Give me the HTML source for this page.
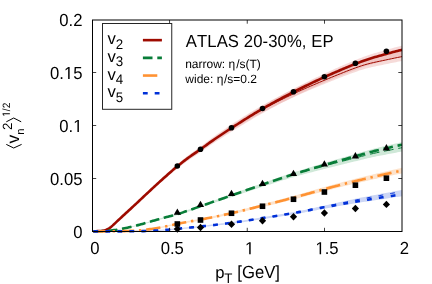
<!DOCTYPE html>
<html><head><meta charset="utf-8"><title>plot</title>
<style>html,body{margin:0;padding:0;background:#fff}body{width:432px;height:284px;overflow:hidden;font-family:"Liberation Sans",sans-serif}</style></head>
<body>
<svg width="432" height="284" viewBox="0 0 432 284" style="display:block;will-change:transform;opacity:0.999;text-rendering:geometricPrecision;font-kerning:none">
<rect width="432" height="284" fill="#fff"/>
<defs><path id="one" d="M515 0V1237L197 1010V1180L530 1409H696V0Z"/><clipPath id="c"><rect x="92.5" y="20" width="309.5" height="213"/></clipPath></defs>
<g clip-path="url(#c)" fill="none">
<path d="M93.40,231.16 L94.50,231.15 L96.00,231.12 L97.50,231.08 L99.00,231.03 L100.50,230.97 L102.00,230.90 L103.50,230.83 L105.00,230.75 L106.50,230.66 L108.00,230.54 L109.50,230.39 L111.00,230.23 L112.50,230.05 L114.00,229.86 L115.50,229.66 L117.00,229.43 L118.50,229.18 L120.00,228.90 L121.50,228.60 L123.00,228.29 L124.50,227.98 L126.00,227.66 L127.50,227.33 L129.00,226.99 L130.50,226.63 L132.00,226.26 L133.50,225.89 L135.00,225.50 L136.50,225.11 L138.00,224.71 L139.50,224.31 L141.00,223.90 L142.50,223.48 L144.00,223.04 L145.50,222.59 L147.00,222.13 L148.50,221.68 L150.00,221.22 L151.50,220.77 L153.00,220.33 L154.50,219.90 L156.00,219.46 L157.50,219.02 L159.00,218.59 L160.50,218.16 L162.00,217.73 L163.50,217.31 L165.00,216.88 L166.50,216.47 L168.00,216.07 L169.50,215.68 L171.00,215.29 L172.50,214.89 L174.00,214.49 L175.50,214.06 L177.00,213.62 L178.50,213.15 L180.00,212.66 L181.50,212.14 L183.00,211.61 L184.50,211.07 L186.00,210.53 L187.50,209.98 L189.00,209.43 L190.50,208.90 L192.00,208.36 L193.50,207.82 L195.00,207.27 L196.50,206.73 L198.00,206.18 L199.50,205.64 L201.00,205.10 L202.50,204.56 L204.00,204.02 L205.50,203.48 L207.00,202.94 L208.50,202.40 L210.00,201.86 L211.50,201.33 L213.00,200.79 L214.50,200.25 L216.00,199.72 L217.50,199.18 L219.00,198.65 L220.50,198.11 L222.00,197.58 L223.50,197.04 L225.00,196.50 L226.50,195.97 L228.00,195.43 L229.50,194.90 L231.00,194.36 L232.50,193.82 L234.00,193.28 L235.50,192.74 L237.00,192.20 L238.50,191.66 L240.00,191.12 L241.50,190.58 L243.00,190.04 L244.50,189.50 L246.00,188.96 L247.50,188.42 L249.00,187.88 L250.50,187.34 L252.00,186.80 L253.50,186.27 L255.00,185.73 L256.50,185.20 L258.00,184.67 L259.50,184.14 L261.00,183.61 L262.50,183.09 L264.00,182.56 L265.50,182.04 L267.00,181.52 L268.50,180.99 L270.00,180.47 L271.50,179.95 L273.00,179.43 L274.50,178.91 L276.00,178.39 L277.50,177.87 L279.00,177.36 L280.50,176.84 L282.00,176.33 L283.50,175.82 L285.00,175.31 L286.50,174.81 L288.00,174.31 L289.50,173.81 L291.00,173.31 L292.50,172.82 L294.00,172.33 L295.50,171.84 L297.00,171.36 L298.50,170.88 L300.00,170.41 L301.50,169.94 L303.00,169.47 L304.50,169.00 L306.00,168.54 L307.50,168.07 L309.00,167.62 L310.50,167.16 L312.00,166.70 L313.50,166.25 L315.00,165.80 L316.50,165.35 L318.00,164.90 L319.50,164.45 L321.00,164.00 L322.50,163.55 L324.00,163.10 L325.50,162.65 L327.00,162.20 L328.50,161.76 L330.00,161.31 L331.50,160.87 L333.00,160.43 L334.50,159.99 L336.00,159.55 L337.50,159.11 L339.00,158.67 L340.50,158.23 L342.00,157.80 L343.50,157.36 L345.00,156.93 L346.50,156.49 L348.00,156.06 L349.50,155.63 L351.00,155.20 L352.50,154.77 L354.00,154.34 L355.50,153.91 L357.00,153.48 L358.50,153.05 L360.00,152.62 L361.50,152.18 L363.00,151.75 L364.50,151.32 L366.00,150.89 L367.50,150.47 L369.00,150.05 L370.50,149.64 L372.00,149.23 L373.50,148.83 L375.00,148.44 L376.50,148.06 L378.00,147.69 L379.50,147.33 L381.00,146.98 L382.50,146.62 L384.00,146.28 L385.50,145.93 L387.00,145.57 L388.50,145.22 L390.00,144.87 L391.50,144.52 L393.00,144.17 L394.50,143.82 L396.00,143.47 L397.50,143.13 L399.00,142.78 L400.50,142.44 L402.00,142.10 L402.00,151.54 L400.50,151.81 L399.00,152.09 L397.50,152.37 L396.00,152.65 L394.50,152.93 L393.00,153.21 L391.50,153.50 L390.00,153.78 L388.50,154.06 L387.00,154.35 L385.50,154.64 L384.00,154.92 L382.50,155.20 L381.00,155.49 L379.50,155.78 L378.00,156.07 L376.50,156.37 L375.00,156.69 L373.50,157.01 L372.00,157.34 L370.50,157.68 L369.00,158.02 L367.50,158.37 L366.00,158.73 L364.50,159.09 L363.00,159.45 L361.50,159.81 L360.00,160.17 L358.50,160.54 L357.00,160.90 L355.50,161.26 L354.00,161.62 L352.50,161.98 L351.00,162.35 L349.50,162.71 L348.00,163.07 L346.50,163.44 L345.00,163.80 L343.50,164.17 L342.00,164.54 L340.50,164.91 L339.00,165.28 L337.50,165.65 L336.00,166.02 L334.50,166.39 L333.00,166.77 L331.50,167.14 L330.00,167.52 L328.50,167.90 L327.00,168.28 L325.50,168.66 L324.00,169.04 L322.50,169.43 L321.00,169.81 L319.50,170.19 L318.00,170.58 L316.50,170.96 L315.00,171.35 L313.50,171.74 L312.00,172.13 L310.50,172.52 L309.00,172.91 L307.50,173.31 L306.00,173.71 L304.50,174.11 L303.00,174.51 L301.50,174.92 L300.00,175.33 L298.50,175.74 L297.00,176.16 L295.50,176.58 L294.00,177.01 L292.50,177.44 L291.00,177.87 L289.50,178.31 L288.00,178.75 L286.50,179.19 L285.00,179.64 L283.50,180.09 L282.00,180.54 L280.50,181.00 L279.00,181.48 L277.50,181.96 L276.00,182.45 L274.50,182.93 L273.00,183.41 L271.50,183.90 L270.00,184.39 L268.50,184.88 L267.00,185.37 L265.50,185.85 L264.00,186.34 L262.50,186.83 L261.00,187.32 L259.50,187.82 L258.00,188.31 L256.50,188.81 L255.00,189.30 L253.50,189.80 L252.00,190.31 L250.50,190.81 L249.00,191.31 L247.50,191.82 L246.00,192.32 L244.50,192.83 L243.00,193.33 L241.50,193.84 L240.00,194.34 L238.50,194.85 L237.00,195.35 L235.50,195.86 L234.00,196.36 L232.50,196.86 L231.00,197.37 L229.50,197.87 L228.00,198.37 L226.50,198.87 L225.00,199.37 L223.50,199.87 L222.00,200.37 L220.50,200.87 L219.00,201.37 L217.50,201.87 L216.00,202.37 L214.50,202.87 L213.00,203.37 L211.50,203.88 L210.00,204.38 L208.50,204.88 L207.00,205.38 L205.50,205.88 L204.00,206.39 L202.50,206.89 L201.00,207.40 L199.50,207.90 L198.00,208.41 L196.50,208.92 L195.00,209.43 L193.50,209.94 L192.00,210.44 L190.50,210.95 L189.00,211.45 L187.50,211.96 L186.00,212.47 L184.50,212.98 L183.00,213.49 L181.50,213.98 L180.00,214.46 L178.50,214.92 L177.00,215.36 L175.50,215.77 L174.00,216.17 L172.50,216.55 L171.00,216.92 L169.50,217.28 L168.00,217.65 L166.50,218.02 L165.00,218.41 L163.50,218.80 L162.00,219.20 L160.50,219.60 L159.00,220.00 L157.50,220.41 L156.00,220.82 L154.50,221.22 L153.00,221.63 L151.50,222.04 L150.00,222.46 L148.50,222.89 L147.00,223.31 L145.50,223.74 L144.00,224.16 L142.50,224.57 L141.00,224.97 L139.50,225.35 L138.00,225.72 L136.50,226.10 L135.00,226.46 L133.50,226.82 L132.00,227.17 L130.50,227.52 L129.00,227.85 L127.50,228.17 L126.00,228.48 L124.50,228.78 L123.00,229.07 L121.50,229.36 L120.00,229.63 L118.50,229.89 L117.00,230.13 L115.50,230.34 L114.00,230.53 L112.50,230.71 L111.00,230.88 L109.50,231.03 L108.00,231.17 L106.50,231.28 L105.00,231.37 L103.50,231.44 L102.00,231.50 L100.50,231.57 L99.00,231.62 L97.50,231.67 L96.00,231.71 L94.50,231.74 L93.40,231.75Z" fill="#cfe8d8"/>
<path d="M93.40,230.90 L94.50,230.89 L96.00,230.89 L97.50,230.89 L99.00,230.88 L100.50,230.88 L102.00,230.87 L103.50,230.86 L105.00,230.85 L106.50,230.84 L108.00,230.82 L109.50,230.81 L111.00,230.80 L112.50,230.78 L114.00,230.76 L115.50,230.75 L117.00,230.73 L118.50,230.71 L120.00,230.69 L121.50,230.66 L123.00,230.63 L124.50,230.59 L126.00,230.54 L127.50,230.48 L129.00,230.41 L130.50,230.34 L132.00,230.26 L133.50,230.18 L135.00,230.09 L136.50,229.99 L138.00,229.89 L139.50,229.79 L141.00,229.68 L142.50,229.54 L144.00,229.38 L145.50,229.20 L147.00,229.01 L148.50,228.79 L150.00,228.56 L151.50,228.32 L153.00,228.07 L154.50,227.82 L156.00,227.56 L157.50,227.29 L159.00,227.03 L160.50,226.76 L162.00,226.48 L163.50,226.18 L165.00,225.86 L166.50,225.53 L168.00,225.19 L169.50,224.85 L171.00,224.50 L172.50,224.16 L174.00,223.82 L175.50,223.49 L177.00,223.17 L178.50,222.86 L180.00,222.56 L181.50,222.27 L183.00,221.97 L184.50,221.68 L186.00,221.40 L187.50,221.11 L189.00,220.82 L190.50,220.53 L192.00,220.25 L193.50,219.98 L195.00,219.70 L196.50,219.42 L198.00,219.14 L199.50,218.86 L201.00,218.56 L202.50,218.26 L204.00,217.96 L205.50,217.66 L207.00,217.35 L208.50,217.05 L210.00,216.74 L211.50,216.43 L213.00,216.11 L214.50,215.79 L216.00,215.48 L217.50,215.15 L219.00,214.83 L220.50,214.50 L222.00,214.17 L223.50,213.84 L225.00,213.51 L226.50,213.17 L228.00,212.83 L229.50,212.49 L231.00,212.14 L232.50,211.79 L234.00,211.43 L235.50,211.07 L237.00,210.71 L238.50,210.34 L240.00,209.97 L241.50,209.59 L243.00,209.21 L244.50,208.83 L246.00,208.45 L247.50,208.06 L249.00,207.67 L250.50,207.28 L252.00,206.89 L253.50,206.50 L255.00,206.10 L256.50,205.71 L258.00,205.32 L259.50,204.92 L261.00,204.53 L262.50,204.14 L264.00,203.75 L265.50,203.36 L267.00,202.97 L268.50,202.58 L270.00,202.19 L271.50,201.79 L273.00,201.40 L274.50,201.01 L276.00,200.61 L277.50,200.22 L279.00,199.82 L280.50,199.42 L282.00,199.02 L283.50,198.62 L285.00,198.22 L286.50,197.82 L288.00,197.41 L289.50,197.00 L291.00,196.60 L292.50,196.19 L294.00,195.78 L295.50,195.36 L297.00,194.95 L298.50,194.53 L300.00,194.10 L301.50,193.67 L303.00,193.24 L304.50,192.81 L306.00,192.37 L307.50,191.93 L309.00,191.50 L310.50,191.06 L312.00,190.62 L313.50,190.18 L315.00,189.74 L316.50,189.31 L318.00,188.87 L319.50,188.44 L321.00,188.01 L322.50,187.59 L324.00,187.17 L325.50,186.75 L327.00,186.34 L328.50,185.92 L330.00,185.51 L331.50,185.10 L333.00,184.69 L334.50,184.28 L336.00,183.87 L337.50,183.47 L339.00,183.06 L340.50,182.66 L342.00,182.26 L343.50,181.86 L345.00,181.46 L346.50,181.06 L348.00,180.67 L349.50,180.28 L351.00,179.89 L352.50,179.50 L354.00,179.12 L355.50,178.74 L357.00,178.36 L358.50,177.98 L360.00,177.60 L361.50,177.23 L363.00,176.86 L364.50,176.49 L366.00,176.12 L367.50,175.75 L369.00,175.39 L370.50,175.03 L372.00,174.67 L373.50,174.31 L375.00,173.95 L376.50,173.60 L378.00,173.24 L379.50,172.89 L381.00,172.54 L382.50,172.19 L384.00,171.84 L385.50,171.50 L387.00,171.15 L388.50,170.81 L390.00,170.47 L391.50,170.14 L393.00,169.80 L394.50,169.47 L396.00,169.14 L397.50,168.82 L399.00,168.49 L400.50,168.17 L402.00,167.85 L402.00,173.35 L400.50,173.65 L399.00,173.95 L397.50,174.25 L396.00,174.56 L394.50,174.86 L393.00,175.17 L391.50,175.48 L390.00,175.79 L388.50,176.11 L387.00,176.42 L385.50,176.74 L384.00,177.07 L382.50,177.39 L381.00,177.71 L379.50,178.04 L378.00,178.36 L376.50,178.69 L375.00,179.02 L373.50,179.35 L372.00,179.69 L370.50,180.02 L369.00,180.36 L367.50,180.70 L366.00,181.04 L364.50,181.38 L363.00,181.72 L361.50,182.07 L360.00,182.41 L358.50,182.76 L357.00,183.11 L355.50,183.46 L354.00,183.82 L352.50,184.18 L351.00,184.54 L349.50,184.90 L348.00,185.26 L346.50,185.63 L345.00,185.99 L343.50,186.36 L342.00,186.73 L340.50,187.11 L339.00,187.48 L337.50,187.86 L336.00,188.23 L334.50,188.61 L333.00,188.99 L331.50,189.38 L330.00,189.76 L328.50,190.14 L327.00,190.53 L325.50,190.91 L324.00,191.30 L322.50,191.69 L321.00,192.08 L319.50,192.48 L318.00,192.88 L316.50,193.28 L315.00,193.69 L313.50,194.09 L312.00,194.50 L310.50,194.91 L309.00,195.31 L307.50,195.72 L306.00,196.13 L304.50,196.53 L303.00,196.94 L301.50,197.34 L300.00,197.73 L298.50,198.13 L297.00,198.52 L295.50,198.90 L294.00,199.29 L292.50,199.67 L291.00,200.05 L289.50,200.43 L288.00,200.81 L286.50,201.18 L285.00,201.56 L283.50,201.93 L282.00,202.30 L280.50,202.67 L279.00,203.04 L277.50,203.41 L276.00,203.78 L274.50,204.15 L273.00,204.51 L271.50,204.88 L270.00,205.24 L268.50,205.61 L267.00,205.97 L265.50,206.33 L264.00,206.70 L262.50,207.06 L261.00,207.42 L259.50,207.79 L258.00,208.15 L256.50,208.51 L255.00,208.88 L253.50,209.24 L252.00,209.61 L250.50,209.97 L249.00,210.34 L247.50,210.70 L246.00,211.06 L244.50,211.41 L243.00,211.77 L241.50,212.12 L240.00,212.47 L238.50,212.82 L237.00,213.16 L235.50,213.50 L234.00,213.83 L232.50,214.16 L231.00,214.48 L229.50,214.81 L228.00,215.13 L226.50,215.44 L225.00,215.75 L223.50,216.07 L222.00,216.37 L220.50,216.68 L219.00,216.98 L217.50,217.28 L216.00,217.58 L214.50,217.88 L213.00,218.17 L211.50,218.47 L210.00,218.75 L208.50,219.04 L207.00,219.33 L205.50,219.61 L204.00,219.89 L202.50,220.17 L201.00,220.45 L199.50,220.72 L198.00,220.99 L196.50,221.25 L195.00,221.51 L193.50,221.76 L192.00,222.02 L190.50,222.28 L189.00,222.55 L187.50,222.81 L186.00,223.08 L184.50,223.35 L183.00,223.62 L181.50,223.89 L180.00,224.17 L178.50,224.45 L177.00,224.73 L175.50,225.02 L174.00,225.33 L172.50,225.65 L171.00,225.97 L169.50,226.29 L168.00,226.61 L166.50,226.92 L165.00,227.23 L163.50,227.52 L162.00,227.80 L160.50,228.07 L159.00,228.31 L157.50,228.56 L156.00,228.80 L154.50,229.04 L153.00,229.28 L151.50,229.51 L150.00,229.74 L148.50,229.95 L147.00,230.15 L145.50,230.33 L144.00,230.50 L142.50,230.65 L141.00,230.77 L139.50,230.88 L138.00,230.97 L136.50,231.06 L135.00,231.15 L133.50,231.24 L132.00,231.31 L130.50,231.39 L129.00,231.45 L127.50,231.52 L126.00,231.57 L124.50,231.62 L123.00,231.66 L121.50,231.69 L120.00,231.71 L118.50,231.73 L117.00,231.75 L115.50,231.76 L114.00,231.78 L112.50,231.80 L111.00,231.81 L109.50,231.82 L108.00,231.84 L106.50,231.85 L105.00,231.86 L103.50,231.87 L102.00,231.88 L100.50,231.88 L99.00,231.89 L97.50,231.90 L96.00,231.90 L94.50,231.90 L93.40,231.90Z" fill="#fde3cc"/>
<path d="M93.40,230.90 L94.50,230.90 L96.00,230.90 L97.50,230.90 L99.00,230.90 L100.50,230.90 L102.00,230.89 L103.50,230.89 L105.00,230.89 L106.50,230.89 L108.00,230.88 L109.50,230.88 L111.00,230.87 L112.50,230.87 L114.00,230.86 L115.50,230.86 L117.00,230.85 L118.50,230.84 L120.00,230.84 L121.50,230.83 L123.00,230.82 L124.50,230.81 L126.00,230.80 L127.50,230.79 L129.00,230.78 L130.50,230.77 L132.00,230.76 L133.50,230.75 L135.00,230.74 L136.50,230.73 L138.00,230.71 L139.50,230.70 L141.00,230.68 L142.50,230.66 L144.00,230.62 L145.50,230.57 L147.00,230.51 L148.50,230.44 L150.00,230.37 L151.50,230.29 L153.00,230.20 L154.50,230.11 L156.00,230.02 L157.50,229.93 L159.00,229.83 L160.50,229.74 L162.00,229.64 L163.50,229.52 L165.00,229.40 L166.50,229.27 L168.00,229.13 L169.50,228.99 L171.00,228.84 L172.50,228.70 L174.00,228.55 L175.50,228.40 L177.00,228.25 L178.50,228.11 L180.00,227.97 L181.50,227.82 L183.00,227.68 L184.50,227.53 L186.00,227.38 L187.50,227.23 L189.00,227.08 L190.50,226.93 L192.00,226.78 L193.50,226.62 L195.00,226.46 L196.50,226.30 L198.00,226.14 L199.50,225.98 L201.00,225.81 L202.50,225.64 L204.00,225.48 L205.50,225.31 L207.00,225.13 L208.50,224.96 L210.00,224.79 L211.50,224.61 L213.00,224.43 L214.50,224.25 L216.00,224.07 L217.50,223.89 L219.00,223.70 L220.50,223.51 L222.00,223.32 L223.50,223.13 L225.00,222.94 L226.50,222.74 L228.00,222.54 L229.50,222.34 L231.00,222.13 L232.50,221.93 L234.00,221.72 L235.50,221.50 L237.00,221.28 L238.50,221.06 L240.00,220.83 L241.50,220.61 L243.00,220.38 L244.50,220.14 L246.00,219.91 L247.50,219.67 L249.00,219.43 L250.50,219.19 L252.00,218.94 L253.50,218.70 L255.00,218.46 L256.50,218.21 L258.00,217.97 L259.50,217.72 L261.00,217.48 L262.50,217.24 L264.00,216.99 L265.50,216.75 L267.00,216.51 L268.50,216.26 L270.00,216.02 L271.50,215.77 L273.00,215.53 L274.50,215.28 L276.00,215.03 L277.50,214.78 L279.00,214.53 L280.50,214.28 L282.00,214.03 L283.50,213.77 L285.00,213.52 L286.50,213.26 L288.00,213.00 L289.50,212.74 L291.00,212.48 L292.50,212.21 L294.00,211.95 L295.50,211.68 L297.00,211.40 L298.50,211.13 L300.00,210.84 L301.50,210.56 L303.00,210.26 L304.50,209.95 L306.00,209.64 L307.50,209.31 L309.00,208.99 L310.50,208.65 L312.00,208.32 L313.50,207.98 L315.00,207.64 L316.50,207.30 L318.00,206.96 L319.50,206.63 L321.00,206.29 L322.50,205.96 L324.00,205.63 L325.50,205.31 L327.00,204.98 L328.50,204.65 L330.00,204.32 L331.50,203.99 L333.00,203.66 L334.50,203.32 L336.00,202.99 L337.50,202.65 L339.00,202.32 L340.50,201.99 L342.00,201.66 L343.50,201.32 L345.00,200.99 L346.50,200.67 L348.00,200.34 L349.50,200.02 L351.00,199.70 L352.50,199.39 L354.00,199.07 L355.50,198.77 L357.00,198.46 L358.50,198.16 L360.00,197.86 L361.50,197.57 L363.00,197.28 L364.50,196.99 L366.00,196.70 L367.50,196.41 L369.00,196.13 L370.50,195.84 L372.00,195.56 L373.50,195.28 L375.00,194.99 L376.50,194.71 L378.00,194.43 L379.50,194.15 L381.00,193.86 L382.50,193.58 L384.00,193.30 L385.50,193.01 L387.00,192.73 L388.50,192.45 L390.00,192.17 L391.50,191.89 L393.00,191.61 L394.50,191.33 L396.00,191.06 L397.50,190.79 L399.00,190.52 L400.50,190.25 L402.00,189.98 L402.00,196.23 L400.50,196.45 L399.00,196.67 L397.50,196.89 L396.00,197.11 L394.50,197.34 L393.00,197.56 L391.50,197.79 L390.00,198.02 L388.50,198.25 L387.00,198.48 L385.50,198.71 L384.00,198.94 L382.50,199.17 L381.00,199.40 L379.50,199.62 L378.00,199.85 L376.50,200.07 L375.00,200.30 L373.50,200.52 L372.00,200.74 L370.50,200.97 L369.00,201.19 L367.50,201.42 L366.00,201.64 L364.50,201.87 L363.00,202.10 L361.50,202.33 L360.00,202.56 L358.50,202.80 L357.00,203.03 L355.50,203.28 L354.00,203.52 L352.50,203.77 L351.00,204.02 L349.50,204.27 L348.00,204.53 L346.50,204.78 L345.00,205.04 L343.50,205.30 L342.00,205.56 L340.50,205.83 L339.00,206.09 L337.50,206.36 L336.00,206.62 L334.50,206.89 L333.00,207.16 L331.50,207.43 L330.00,207.70 L328.50,207.96 L327.00,208.23 L325.50,208.50 L324.00,208.77 L322.50,209.04 L321.00,209.31 L319.50,209.59 L318.00,209.87 L316.50,210.15 L315.00,210.43 L313.50,210.71 L312.00,210.99 L310.50,211.27 L309.00,211.55 L307.50,211.83 L306.00,212.11 L304.50,212.38 L303.00,212.66 L301.50,212.93 L300.00,213.20 L298.50,213.46 L297.00,213.72 L295.50,213.98 L294.00,214.23 L292.50,214.48 L291.00,214.73 L289.50,214.98 L288.00,215.22 L286.50,215.47 L285.00,215.71 L283.50,215.95 L282.00,216.19 L280.50,216.42 L279.00,216.66 L277.50,216.89 L276.00,217.13 L274.50,217.36 L273.00,217.59 L271.50,217.82 L270.00,218.05 L268.50,218.28 L267.00,218.51 L265.50,218.74 L264.00,218.97 L262.50,219.20 L261.00,219.43 L259.50,219.66 L258.00,219.89 L256.50,220.12 L255.00,220.35 L253.50,220.57 L252.00,220.80 L250.50,221.03 L249.00,221.26 L247.50,221.48 L246.00,221.71 L244.50,221.93 L243.00,222.15 L241.50,222.36 L240.00,222.58 L238.50,222.79 L237.00,223.00 L235.50,223.20 L234.00,223.41 L232.50,223.60 L231.00,223.80 L229.50,223.99 L228.00,224.18 L226.50,224.37 L225.00,224.55 L223.50,224.73 L222.00,224.91 L220.50,225.09 L219.00,225.27 L217.50,225.44 L216.00,225.62 L214.50,225.79 L213.00,225.96 L211.50,226.12 L210.00,226.29 L208.50,226.45 L207.00,226.62 L205.50,226.78 L204.00,226.94 L202.50,227.10 L201.00,227.25 L199.50,227.41 L198.00,227.56 L196.50,227.71 L195.00,227.86 L193.50,228.01 L192.00,228.16 L190.50,228.30 L189.00,228.45 L187.50,228.59 L186.00,228.73 L184.50,228.87 L183.00,229.01 L181.50,229.14 L180.00,229.28 L178.50,229.41 L177.00,229.55 L175.50,229.68 L174.00,229.82 L172.50,229.96 L171.00,230.10 L169.50,230.24 L168.00,230.37 L166.50,230.50 L165.00,230.62 L163.50,230.74 L162.00,230.85 L160.50,230.94 L159.00,231.03 L157.50,231.12 L156.00,231.20 L154.50,231.29 L153.00,231.37 L151.50,231.45 L150.00,231.53 L148.50,231.60 L147.00,231.66 L145.50,231.72 L144.00,231.77 L142.50,231.80 L141.00,231.83 L139.50,231.84 L138.00,231.86 L136.50,231.87 L135.00,231.88 L133.50,231.89 L132.00,231.90 L130.50,231.91 L129.00,231.92 L127.50,231.93 L126.00,231.94 L124.50,231.95 L123.00,231.96 L121.50,231.96 L120.00,231.97 L118.50,231.98 L117.00,231.98 L115.50,231.99 L114.00,232.00 L112.50,232.00 L111.00,232.01 L109.50,232.01 L108.00,232.01 L106.50,232.02 L105.00,232.02 L103.50,232.02 L102.00,232.03 L100.50,232.03 L99.00,232.03 L97.50,232.03 L96.00,232.03 L94.50,232.03 L93.40,232.03Z" fill="#ccd6f5"/>
<path d="M93.40,231.34 L94.50,231.31 L96.00,231.25 L97.50,231.17 L99.00,231.06 L100.50,230.94 L102.00,230.75 L103.50,230.49 L105.00,230.15 L106.50,229.68 L108.00,228.97 L109.50,228.02 L111.00,226.80 L112.50,225.50 L114.00,224.14 L115.50,222.70 L117.00,221.21 L118.50,219.74 L120.00,218.30 L121.50,216.87 L123.00,215.46 L124.50,214.05 L126.00,212.64 L127.50,211.23 L129.00,209.83 L130.50,208.41 L132.00,206.99 L133.50,205.56 L135.00,204.13 L136.50,202.69 L138.00,201.26 L139.50,199.82 L141.00,198.38 L142.50,196.94 L144.00,195.50 L145.50,194.06 L147.00,192.62 L148.50,191.19 L150.00,189.77 L151.50,188.35 L153.00,186.93 L154.50,185.52 L156.00,184.11 L157.50,182.70 L159.00,181.29 L160.50,179.90 L162.00,178.51 L163.50,177.13 L165.00,175.76 L166.50,174.39 L168.00,173.03 L169.50,171.68 L171.00,170.33 L172.50,169.00 L174.00,167.68 L175.50,166.38 L177.00,165.11 L178.50,163.85 L180.00,162.62 L181.50,161.40 L183.00,160.20 L184.50,159.01 L186.00,157.85 L187.50,156.70 L189.00,155.58 L190.50,154.48 L192.00,153.41 L193.50,152.36 L195.00,151.31 L196.50,150.26 L198.00,149.21 L199.50,148.15 L201.00,147.06 L202.50,145.96 L204.00,144.84 L205.50,143.72 L207.00,142.60 L208.50,141.48 L210.00,140.38 L211.50,139.29 L213.00,138.23 L214.50,137.17 L216.00,136.12 L217.50,135.08 L219.00,134.04 L220.50,133.01 L222.00,131.99 L223.50,130.97 L225.00,129.96 L226.50,128.96 L228.00,127.96 L229.50,126.96 L231.00,125.97 L232.50,124.98 L234.00,124.00 L235.50,123.01 L237.00,122.03 L238.50,121.05 L240.00,120.07 L241.50,119.10 L243.00,118.13 L244.50,117.16 L246.00,116.20 L247.50,115.24 L249.00,114.29 L250.50,113.34 L252.00,112.40 L253.50,111.47 L255.00,110.54 L256.50,109.61 L258.00,108.70 L259.50,107.79 L261.00,106.89 L262.50,106.00 L264.00,105.12 L265.50,104.24 L267.00,103.37 L268.50,102.50 L270.00,101.64 L271.50,100.78 L273.00,99.93 L274.50,99.09 L276.00,98.25 L277.50,97.42 L279.00,96.59 L280.50,95.76 L282.00,94.94 L283.50,94.13 L285.00,93.32 L286.50,92.51 L288.00,91.71 L289.50,90.92 L291.00,90.13 L292.50,89.34 L294.00,88.56 L295.50,87.78 L297.00,87.01 L298.50,86.24 L300.00,85.47 L301.50,84.71 L303.00,83.96 L304.50,83.20 L306.00,82.46 L307.50,81.71 L309.00,80.97 L310.50,80.24 L312.00,79.51 L313.50,78.78 L315.00,78.06 L316.50,77.34 L318.00,76.63 L319.50,75.92 L321.00,75.21 L322.50,74.51 L324.00,73.81 L325.50,73.12 L327.00,72.43 L328.50,71.74 L330.00,71.06 L331.50,70.38 L333.00,69.70 L334.50,69.02 L336.00,68.35 L337.50,67.69 L339.00,67.03 L340.50,66.37 L342.00,65.71 L343.50,65.07 L345.00,64.42 L346.50,63.78 L348.00,63.14 L349.50,62.51 L351.00,61.89 L352.50,61.27 L354.00,60.65 L355.50,60.04 L357.00,59.43 L358.50,58.82 L360.00,58.23 L361.50,57.64 L363.00,57.07 L364.50,56.51 L366.00,55.99 L367.50,55.48 L369.00,54.99 L370.50,54.51 L372.00,54.04 L373.50,53.58 L375.00,53.12 L376.50,52.68 L378.00,52.24 L379.50,51.81 L381.00,51.38 L382.50,50.95 L384.00,50.53 L385.50,50.11 L387.00,49.68 L388.50,49.26 L390.00,48.84 L391.50,48.43 L393.00,48.02 L394.50,47.62 L396.00,47.22 L397.50,46.82 L399.00,46.43 L400.50,46.04 L402.00,45.66 L402.00,56.34 L400.50,56.70 L399.00,57.07 L397.50,57.44 L396.00,57.81 L394.50,58.19 L393.00,58.57 L391.50,58.96 L390.00,59.34 L388.50,59.74 L387.00,60.13 L385.50,60.53 L384.00,60.93 L382.50,61.33 L381.00,61.73 L379.50,62.14 L378.00,62.55 L376.50,62.96 L375.00,63.38 L373.50,63.80 L372.00,64.24 L370.50,64.68 L369.00,65.13 L367.50,65.60 L366.00,66.08 L364.50,66.57 L363.00,67.09 L361.50,67.63 L360.00,68.19 L358.50,68.75 L357.00,69.32 L355.50,69.90 L354.00,70.47 L352.50,71.05 L351.00,71.64 L349.50,72.23 L348.00,72.82 L346.50,73.42 L345.00,74.03 L343.50,74.63 L342.00,75.25 L340.50,75.86 L339.00,76.48 L337.50,77.11 L336.00,77.73 L334.50,78.37 L333.00,79.00 L331.50,79.64 L330.00,80.28 L328.50,80.92 L327.00,81.57 L325.50,82.22 L324.00,82.88 L322.50,83.53 L321.00,84.20 L319.50,84.86 L318.00,85.53 L316.50,86.20 L315.00,86.88 L313.50,87.56 L312.00,88.25 L310.50,88.93 L309.00,89.63 L307.50,90.32 L306.00,91.02 L304.50,91.73 L303.00,92.44 L301.50,93.15 L300.00,93.87 L298.50,94.59 L297.00,95.31 L295.50,96.04 L294.00,96.78 L292.50,97.51 L291.00,98.26 L289.50,99.00 L288.00,99.75 L286.50,100.50 L285.00,101.26 L283.50,102.03 L282.00,102.79 L280.50,103.57 L279.00,104.34 L277.50,105.12 L276.00,105.91 L274.50,106.70 L273.00,107.50 L271.50,108.30 L270.00,109.11 L268.50,109.92 L267.00,110.73 L265.50,111.56 L264.00,112.38 L262.50,113.22 L261.00,114.06 L259.50,114.90 L258.00,115.76 L256.50,116.62 L255.00,117.49 L253.50,118.37 L252.00,119.25 L250.50,120.13 L249.00,121.03 L247.50,121.93 L246.00,122.83 L244.50,123.73 L243.00,124.65 L241.50,125.56 L240.00,126.48 L238.50,127.40 L237.00,128.32 L235.50,129.25 L234.00,130.18 L232.50,131.11 L231.00,132.04 L229.50,132.97 L228.00,133.91 L226.50,134.85 L225.00,135.80 L223.50,136.75 L222.00,137.71 L220.50,138.67 L219.00,139.64 L217.50,140.62 L216.00,141.60 L214.50,142.59 L213.00,143.59 L211.50,144.59 L210.00,145.62 L208.50,146.66 L207.00,147.71 L205.50,148.77 L204.00,149.83 L202.50,150.88 L201.00,151.92 L199.50,152.94 L198.00,153.94 L196.50,154.93 L195.00,155.92 L193.50,156.91 L192.00,157.90 L190.50,158.91 L189.00,159.94 L187.50,161.00 L186.00,162.08 L184.50,163.18 L183.00,164.30 L181.50,165.43 L180.00,166.58 L178.50,167.74 L177.00,168.92 L175.50,170.13 L174.00,171.35 L172.50,172.59 L171.00,173.85 L169.50,175.12 L168.00,176.40 L166.50,177.68 L165.00,178.96 L163.50,180.25 L162.00,181.55 L160.50,182.86 L159.00,184.18 L157.50,185.50 L156.00,186.83 L154.50,188.16 L153.00,189.49 L151.50,190.83 L150.00,192.17 L148.50,193.51 L147.00,194.86 L145.50,196.21 L144.00,197.57 L142.50,198.92 L141.00,200.28 L139.50,201.64 L138.00,202.99 L136.50,204.35 L135.00,205.70 L133.50,207.05 L132.00,208.40 L130.50,209.74 L129.00,211.07 L127.50,212.40 L126.00,213.72 L124.50,215.05 L123.00,216.38 L121.50,217.72 L120.00,219.06 L118.50,220.41 L117.00,221.80 L115.50,223.20 L114.00,224.56 L112.50,225.85 L111.00,227.07 L109.50,228.22 L108.00,229.11 L106.50,229.79 L105.00,230.23 L103.50,230.55 L102.00,230.79 L100.50,230.98 L99.00,231.09 L97.50,231.18 L96.00,231.27 L94.50,231.32 L93.40,231.35Z" fill="#f7dada"/>
<path d="M93.40,231.34 L94.50,231.31 L96.00,231.25 L97.50,231.16 L99.00,231.06 L100.50,230.94 L102.00,230.74 L103.50,230.48 L105.00,230.14 L106.50,229.67 L108.00,228.94 L109.50,227.98 L111.00,226.75 L112.50,225.44 L114.00,224.06 L115.50,222.61 L117.00,221.10 L118.50,219.61 L120.00,218.16 L121.50,216.72 L123.00,215.29 L124.50,213.86 L126.00,212.44 L127.50,211.02 L129.00,209.60 L130.50,208.17 L132.00,206.73 L133.50,205.29 L135.00,203.84 L136.50,202.39 L138.00,200.94 L139.50,199.48 L141.00,198.03 L142.50,196.57 L144.00,195.12 L145.50,193.66 L147.00,192.21 L148.50,190.77 L150.00,189.33 L151.50,187.89 L153.00,186.46 L154.50,185.03 L156.00,183.60 L157.50,182.18 L159.00,180.76 L160.50,179.35 L162.00,177.95 L163.50,176.55 L165.00,175.17 L166.50,173.79 L168.00,172.42 L169.50,171.05 L171.00,169.69 L172.50,168.34 L174.00,167.01 L175.50,165.70 L177.00,164.41 L178.50,163.14 L180.00,161.89 L181.50,160.66 L183.00,159.44 L184.50,158.25 L186.00,157.07 L187.50,155.91 L189.00,154.78 L190.50,153.67 L192.00,152.59 L193.50,151.52 L195.00,150.46 L196.50,149.40 L198.00,148.34 L199.50,147.27 L201.00,146.17 L202.50,145.06 L204.00,143.93 L205.50,142.80 L207.00,141.66 L208.50,140.53 L210.00,139.42 L211.50,138.32 L213.00,137.24 L214.50,136.17 L216.00,135.11 L217.50,134.06 L219.00,133.01 L220.50,131.97 L222.00,130.94 L223.50,129.91 L225.00,128.89 L226.50,127.87 L228.00,126.86 L229.50,125.86 L231.00,124.86 L232.50,123.86 L234.00,122.86 L235.50,121.87 L237.00,120.88 L238.50,119.90 L240.00,118.93 L241.50,117.97 L243.00,117.02 L244.50,116.08 L246.00,115.14 L247.50,114.21 L249.00,113.29 L250.50,112.37 L252.00,111.46 L253.50,110.56 L255.00,109.66 L256.50,108.77 L258.00,107.89 L259.50,107.02 L261.00,106.16 L262.50,105.31 L264.00,104.47 L265.50,103.63 L267.00,102.81 L268.50,101.98 L270.00,101.17 L271.50,100.36 L273.00,99.56 L274.50,98.76 L276.00,97.98 L277.50,97.19 L279.00,96.42 L280.50,95.65 L282.00,94.88 L283.50,94.12 L285.00,93.36 L286.50,92.61 L288.00,91.86 L289.50,91.11 L291.00,90.37 L292.50,89.64 L294.00,88.91 L295.50,88.18 L297.00,87.46 L298.50,86.74 L300.00,86.03 L301.50,85.33 L303.00,84.63 L304.50,83.93 L306.00,83.25 L307.50,82.56 L309.00,81.88 L310.50,81.21 L312.00,80.53 L313.50,79.86 L315.00,79.20 L316.50,78.53 L318.00,77.87 L319.50,77.21 L321.00,76.55 L322.50,75.90 L324.00,75.25 L325.50,74.60 L327.00,73.95 L328.50,73.30 L330.00,72.66 L331.50,72.02 L333.00,71.38 L334.50,70.75 L336.00,70.12 L337.50,69.49 L339.00,68.86 L340.50,68.24 L342.00,67.62 L343.50,67.00 L345.00,66.38 L346.50,65.77 L348.00,65.17 L349.50,64.56 L351.00,63.97 L352.50,63.39 L354.00,62.81 L355.50,62.25 L357.00,61.69 L358.50,61.15 L360.00,60.62 L361.50,60.10 L363.00,59.61 L364.50,59.14 L366.00,58.69 L367.50,58.27 L369.00,57.86 L370.50,57.47 L372.00,57.09 L373.50,56.72 L375.00,56.37 L376.50,56.03 L378.00,55.69 L379.50,55.37 L381.00,55.04 L382.50,54.72 L384.00,54.39 L385.50,54.06 L387.00,53.72 L388.50,53.39 L390.00,53.06 L391.50,52.73 L393.00,52.40 L394.50,52.08 L396.00,51.76 L397.50,51.44 L399.00,51.12 L400.50,50.81 L402.00,50.49 L402.00,60.96 L400.50,61.25 L399.00,61.54 L397.50,61.84 L396.00,62.14 L394.50,62.43 L393.00,62.73 L391.50,63.04 L390.00,63.34 L388.50,63.65 L387.00,63.96 L385.50,64.27 L384.00,64.58 L382.50,64.88 L381.00,65.18 L379.50,65.49 L378.00,65.79 L376.50,66.10 L375.00,66.42 L373.50,66.74 L372.00,67.08 L370.50,67.44 L369.00,67.80 L367.50,68.18 L366.00,68.58 L364.50,68.99 L363.00,69.43 L361.50,69.89 L360.00,70.37 L358.50,70.87 L357.00,71.38 L355.50,71.90 L354.00,72.43 L352.50,72.97 L351.00,73.52 L349.50,74.08 L348.00,74.65 L346.50,75.22 L345.00,75.79 L343.50,76.37 L342.00,76.96 L340.50,77.54 L339.00,78.12 L337.50,78.71 L336.00,79.30 L334.50,79.90 L333.00,80.49 L331.50,81.09 L330.00,81.70 L328.50,82.30 L327.00,82.91 L325.50,83.52 L324.00,84.13 L322.50,84.74 L321.00,85.35 L319.50,85.97 L318.00,86.59 L316.50,87.21 L315.00,87.84 L313.50,88.47 L312.00,89.09 L310.50,89.72 L309.00,90.36 L307.50,91.00 L306.00,91.64 L304.50,92.29 L303.00,92.94 L301.50,93.59 L300.00,94.25 L298.50,94.92 L297.00,95.60 L295.50,96.27 L294.00,96.96 L292.50,97.64 L291.00,98.33 L289.50,99.03 L288.00,99.73 L286.50,100.43 L285.00,101.14 L283.50,101.85 L282.00,102.57 L280.50,103.29 L279.00,104.01 L277.50,104.74 L276.00,105.48 L274.50,106.22 L273.00,106.97 L271.50,107.72 L270.00,108.48 L268.50,109.25 L267.00,110.02 L265.50,110.80 L264.00,111.58 L262.50,112.37 L261.00,113.17 L259.50,113.98 L258.00,114.80 L256.50,115.63 L255.00,116.47 L253.50,117.32 L252.00,118.17 L250.50,119.03 L249.00,119.89 L247.50,120.76 L246.00,121.64 L244.50,122.52 L243.00,123.41 L241.50,124.30 L240.00,125.21 L238.50,126.12 L237.00,127.04 L235.50,127.98 L234.00,128.91 L232.50,129.86 L231.00,130.80 L229.50,131.74 L228.00,132.69 L226.50,133.65 L225.00,134.61 L223.50,135.57 L222.00,136.54 L220.50,137.52 L219.00,138.50 L217.50,139.49 L216.00,140.48 L214.50,141.49 L213.00,142.49 L211.50,143.51 L210.00,144.55 L208.50,145.60 L207.00,146.67 L205.50,147.74 L204.00,148.81 L202.50,149.87 L201.00,150.93 L199.50,151.96 L198.00,152.98 L196.50,153.98 L195.00,154.98 L193.50,155.98 L192.00,156.98 L190.50,158.01 L189.00,159.05 L187.50,160.12 L186.00,161.22 L184.50,162.33 L183.00,163.46 L181.50,164.61 L180.00,165.77 L178.50,166.95 L177.00,168.15 L175.50,169.36 L174.00,170.60 L172.50,171.86 L171.00,173.13 L169.50,174.42 L168.00,175.71 L166.50,177.01 L165.00,178.31 L163.50,179.61 L162.00,180.93 L160.50,182.26 L159.00,183.59 L157.50,184.93 L156.00,186.27 L154.50,187.62 L153.00,188.97 L151.50,190.32 L150.00,191.68 L148.50,193.04 L147.00,194.40 L145.50,195.77 L144.00,197.14 L142.50,198.52 L141.00,199.89 L139.50,201.27 L138.00,202.64 L136.50,204.01 L135.00,205.38 L133.50,206.75 L132.00,208.11 L130.50,209.47 L129.00,210.82 L127.50,212.16 L126.00,213.50 L124.50,214.85 L123.00,216.19 L121.50,217.54 L120.00,218.90 L118.50,220.28 L117.00,221.68 L115.50,223.10 L114.00,224.47 L112.50,225.78 L111.00,227.01 L109.50,228.18 L108.00,229.08 L106.50,229.77 L105.00,230.21 L103.50,230.53 L102.00,230.78 L100.50,230.97 L99.00,231.08 L97.50,231.18 L96.00,231.26 L94.50,231.32 L93.40,231.35Z" fill="#e9a9a4" fill-opacity="0.42"/>
<path d="M93.40,231.34 L94.50,231.32 L96.00,231.26 L97.50,231.17 L99.00,231.07 L100.50,230.96 L102.00,230.76 L103.50,230.51 L105.00,230.18 L106.50,229.73 L108.00,229.02 L109.50,228.10 L111.00,226.90 L112.50,225.64 L114.00,224.30 L115.50,222.90 L117.00,221.44 L118.50,220.00 L120.00,218.59 L121.50,217.20 L123.00,215.82 L124.50,214.44 L126.00,213.06 L127.50,211.69 L129.00,210.31 L130.50,208.93 L132.00,207.54 L133.50,206.14 L135.00,204.74 L136.50,203.34 L138.00,201.93 L139.50,200.52 L141.00,199.11 L142.50,197.71 L144.00,196.30 L145.50,194.89 L147.00,193.49 L148.50,192.09 L150.00,190.70 L151.50,189.31 L153.00,187.92 L154.50,186.54 L156.00,185.16 L157.50,183.78 L159.00,182.41 L160.50,181.05 L162.00,179.69 L163.50,178.34 L165.00,177.00 L166.50,175.67 L168.00,174.34 L169.50,173.01 L171.00,171.70 L172.50,170.39 L174.00,169.10 L175.50,167.84 L177.00,166.59 L178.50,165.36 L180.00,164.15 L181.50,162.96 L183.00,161.79 L184.50,160.63 L186.00,159.49 L187.50,158.37 L189.00,157.27 L190.50,156.20 L192.00,155.15 L193.50,154.12 L195.00,153.10 L196.50,152.07 L198.00,151.04 L199.50,150.00 L201.00,148.94 L202.50,147.87 L204.00,146.78 L205.50,145.68 L207.00,144.58 L208.50,143.49 L210.00,142.41 L211.50,141.35 L213.00,140.31 L214.50,139.27 L216.00,138.25 L217.50,137.23 L219.00,136.21 L220.50,135.21 L222.00,134.21 L223.50,133.21 L225.00,132.23 L226.50,131.24 L228.00,130.26 L229.50,129.29 L231.00,128.32 L232.50,127.36 L234.00,126.39 L235.50,125.43 L237.00,124.48 L238.50,123.53 L240.00,122.59 L241.50,121.67 L243.00,120.75 L244.50,119.84 L246.00,118.93 L247.50,118.03 L249.00,117.14 L250.50,116.26 L252.00,115.38 L253.50,114.50 L255.00,113.63 L256.50,112.77 L258.00,111.92 L259.50,111.08 L261.00,110.25 L262.50,109.43 L264.00,108.62 L265.50,107.81 L267.00,107.01 L268.50,106.22 L270.00,105.44 L271.50,104.65 L273.00,103.88 L274.50,103.11 L276.00,102.35 L277.50,101.60 L279.00,100.85 L280.50,100.10 L282.00,99.37 L283.50,98.63 L285.00,97.90 L286.50,97.17 L288.00,96.45 L289.50,95.73 L291.00,95.02 L292.50,94.31 L294.00,93.60 L295.50,92.90 L297.00,92.21 L298.50,91.51 L300.00,90.83 L301.50,90.15 L303.00,89.47 L304.50,88.81 L306.00,88.14 L307.50,87.48 L309.00,86.83 L310.50,86.18 L312.00,85.53 L313.50,84.88 L315.00,84.24 L316.50,83.60 L318.00,82.96 L319.50,82.32 L321.00,81.69 L322.50,81.06 L324.00,80.43 L325.50,79.80 L327.00,79.17 L328.50,78.55 L330.00,77.93 L331.50,77.31 L333.00,76.70 L334.50,76.08 L336.00,75.47 L337.50,74.87 L339.00,74.26 L340.50,73.66 L342.00,73.07 L343.50,72.47 L345.00,71.87 L346.50,71.28 L348.00,70.70 L349.50,70.12 L351.00,69.54 L352.50,68.98 L354.00,68.42 L355.50,67.88 L357.00,67.34 L358.50,66.82 L360.00,66.31 L361.50,65.81 L363.00,65.34 L364.50,64.88 L366.00,64.46 L367.50,64.05 L369.00,63.66 L370.50,63.28 L372.00,62.92 L373.50,62.57 L375.00,62.23 L376.50,61.90 L378.00,61.58 L379.50,61.27 L381.00,60.96 L382.50,60.65 L384.00,60.33 L385.50,60.02 L387.00,59.70 L388.50,59.38 L390.00,59.06 L391.50,58.74 L393.00,58.43 L394.50,58.12 L396.00,57.81 L397.50,57.51 L399.00,57.20 L400.50,56.90 L402.00,56.60" stroke="#9e0b00" stroke-width="1"/>
<path d="M93.40,231.34 L94.50,231.32 L96.00,231.26 L97.50,231.17 L99.00,231.07 L100.50,230.96 L102.00,230.76 L103.50,230.51 L105.00,230.18 L106.50,229.73 L108.00,229.02 L109.50,228.10 L111.00,226.90 L112.50,225.64 L114.00,224.30 L115.50,222.90 L117.00,221.44 L118.50,220.00 L120.00,218.59 L121.50,217.20 L123.00,215.82 L124.50,214.44 L126.00,213.06 L127.50,211.69 L129.00,210.31 L130.50,208.93 L132.00,207.54 L133.50,206.14 L135.00,204.74 L136.50,203.34 L138.00,201.93 L139.50,200.52 L141.00,199.11 L142.50,197.71 L144.00,196.30 L145.50,194.89 L147.00,193.49 L148.50,192.09 L150.00,190.70 L151.50,189.31 L153.00,187.92 L154.50,186.54 L156.00,185.16 L157.50,183.78 L159.00,182.41 L160.50,181.05 L162.00,179.69 L163.50,178.34 L165.00,177.00 L166.50,175.67 L168.00,174.34 L169.50,173.01 L171.00,171.70 L172.50,170.39 L174.00,169.10 L175.50,167.84 L177.00,166.59 L178.50,165.36 L180.00,164.15 L181.50,162.96 L183.00,161.79 L184.50,160.63 L186.00,159.49 L187.50,158.37 L189.00,157.27 L190.50,156.20 L192.00,155.15 L193.50,154.12 L195.00,153.10 L196.50,152.07 L198.00,151.04 L199.50,150.00 L201.00,148.94 L202.50,147.87 L204.00,146.78 L205.50,145.68 L207.00,144.58 L208.50,143.49 L210.00,142.41 L211.50,141.35 L213.00,140.31 L214.50,139.27 L216.00,138.25 L217.50,137.23 L219.00,136.21 L220.50,135.21 L222.00,134.21 L223.50,133.21 L225.00,132.23 L226.50,131.24 L228.00,130.26 L229.50,129.29 L231.00,128.32 L232.50,127.36 L234.00,126.39 L235.50,125.43 L237.00,124.47 L238.50,123.51 L240.00,122.56 L241.50,121.60 L243.00,120.65 L244.50,119.71 L246.00,118.77 L247.50,117.83 L249.00,116.90 L250.50,115.98 L252.00,115.06 L253.50,114.14 L255.00,113.23 L256.50,112.33 L258.00,111.44 L259.50,110.55 L261.00,109.67 L262.50,108.80 L264.00,107.94 L265.50,107.08 L267.00,106.22 L268.50,105.38 L270.00,104.54 L271.50,103.70 L273.00,102.87 L274.50,102.04 L276.00,101.22 L277.50,100.40 L279.00,99.59 L280.50,98.79 L282.00,97.99 L283.50,97.19 L285.00,96.40 L286.50,95.61 L288.00,94.83 L289.50,94.05 L291.00,93.28 L292.50,92.51 L294.00,91.75 L295.50,90.98 L297.00,90.23 L298.50,89.48 L300.00,88.73 L301.50,87.98 L303.00,87.25 L304.50,86.51 L306.00,85.78 L307.50,85.05 L309.00,84.33 L310.50,83.61 L312.00,82.90 L313.50,82.18 L315.00,81.48 L316.50,80.78 L318.00,80.08 L319.50,79.38 L321.00,78.69 L322.50,78.01 L324.00,77.33 L325.50,76.65 L327.00,75.97 L328.50,75.30 L330.00,74.63 L331.50,73.97 L333.00,73.30 L334.50,72.65 L336.00,71.99 L337.50,71.34 L339.00,70.69 L340.50,70.05 L342.00,69.41 L343.50,68.78 L345.00,68.14 L346.50,67.52 L348.00,66.90 L349.50,66.28 L351.00,65.67 L352.50,65.06 L354.00,64.46 L355.50,63.86 L357.00,63.27 L358.50,62.67 L360.00,62.09 L361.50,61.51 L363.00,60.95 L364.50,60.42 L366.00,59.90 L367.50,59.40 L369.00,58.92 L370.50,58.45 L372.00,57.99 L373.50,57.54 L375.00,57.10 L376.50,56.67 L378.00,56.24 L379.50,55.81 L381.00,55.40 L382.50,54.98 L384.00,54.56 L385.50,54.15 L387.00,53.73 L388.50,53.32 L390.00,52.92 L391.50,52.51 L393.00,52.11 L394.50,51.72 L396.00,51.33 L397.50,50.94 L399.00,50.56 L400.50,50.18 L402.00,49.80" stroke="#9e0b00" stroke-width="2.6"/>
<path d="M93.40,231.40 L94.50,231.39 L96.00,231.36 L97.50,231.32 L99.00,231.27 L100.50,231.21 L102.00,231.14 L103.50,231.07 L105.00,231.00 L106.50,230.91 L108.00,230.79 L109.50,230.65 L111.00,230.49 L112.50,230.31 L114.00,230.13 L115.50,229.93 L117.00,229.71 L118.50,229.46 L120.00,229.19 L121.50,228.91 L123.00,228.61 L124.50,228.30 L126.00,227.99 L127.50,227.67 L129.00,227.34 L130.50,226.99 L132.00,226.63 L133.50,226.26 L135.00,225.89 L136.50,225.51 L138.00,225.12 L139.50,224.73 L141.00,224.33 L142.50,223.92 L144.00,223.49 L145.50,223.05 L147.00,222.61 L148.50,222.17 L150.00,221.72 L151.50,221.29 L153.00,220.86 L154.50,220.43 L156.00,220.01 L157.50,219.58 L159.00,219.16 L160.50,218.74 L162.00,218.32 L163.50,217.91 L165.00,217.50 L166.50,217.10 L168.00,216.71 L169.50,216.33 L171.00,215.95 L172.50,215.56 L174.00,215.17 L175.50,214.76 L177.00,214.32 L178.50,213.87 L180.00,213.39 L181.50,212.89 L183.00,212.37 L184.50,211.84 L186.00,211.31 L187.50,210.78 L189.00,210.25 L190.50,209.73 L192.00,209.20 L193.50,208.67 L195.00,208.14 L196.50,207.61 L198.00,207.08 L199.50,206.55 L201.00,206.02 L202.50,205.50 L204.00,204.97 L205.50,204.45 L207.00,203.93 L208.50,203.40 L210.00,202.88 L211.50,202.36 L213.00,201.83 L214.50,201.31 L216.00,200.79 L217.50,200.27 L219.00,199.75 L220.50,199.23 L222.00,198.71 L223.50,198.18 L225.00,197.66 L226.50,197.14 L228.00,196.62 L229.50,196.10 L231.00,195.57 L232.50,195.05 L234.00,194.53 L235.50,194.00 L237.00,193.48 L238.50,192.95 L240.00,192.42 L241.50,191.90 L243.00,191.37 L244.50,190.84 L246.00,190.32 L247.50,189.79 L249.00,189.27 L250.50,188.74 L252.00,188.22 L253.50,187.70 L255.00,187.18 L256.50,186.66 L258.00,186.14 L259.50,185.62 L261.00,185.11 L262.50,184.60 L264.00,184.09 L265.50,183.58 L267.00,183.07 L268.50,182.56 L270.00,182.05 L271.50,181.55 L273.00,181.04 L274.50,180.53 L276.00,180.03 L277.50,179.53 L279.00,179.02 L280.50,178.53 L282.00,178.05 L283.50,177.57 L285.00,177.10 L286.50,176.63 L288.00,176.17 L289.50,175.71 L291.00,175.25 L292.50,174.80 L294.00,174.35 L295.50,173.91 L297.00,173.47 L298.50,173.03 L300.00,172.60 L301.50,172.17 L303.00,171.75 L304.50,171.33 L306.00,170.91 L307.50,170.49 L309.00,170.08 L310.50,169.66 L312.00,169.25 L313.50,168.85 L315.00,168.44 L316.50,168.04 L318.00,167.63 L319.50,167.23 L321.00,166.83 L322.50,166.43 L324.00,166.03 L325.50,165.63 L327.00,165.23 L328.50,164.83 L330.00,164.44 L331.50,164.04 L333.00,163.65 L334.50,163.26 L336.00,162.87 L337.50,162.48 L339.00,162.09 L340.50,161.70 L342.00,161.31 L343.50,160.93 L345.00,160.55 L346.50,160.16 L348.00,159.78 L349.50,159.40 L351.00,159.02 L352.50,158.64 L354.00,158.26 L355.50,157.89 L357.00,157.51 L358.50,157.13 L360.00,156.75 L361.50,156.37 L363.00,155.99 L364.50,155.61 L366.00,155.23 L367.50,154.86 L369.00,154.50 L370.50,154.14 L372.00,153.78 L373.50,153.43 L375.00,153.10 L376.50,152.77 L378.00,152.45 L379.50,152.14 L381.00,151.84 L382.50,151.54 L384.00,151.25 L385.50,150.95 L387.00,150.65 L388.50,150.35 L390.00,150.05 L391.50,149.75 L393.00,149.46 L394.50,149.16 L396.00,148.87 L397.50,148.57 L399.00,148.28 L400.50,147.99 L402.00,147.70" stroke="#087d38" stroke-width="1" stroke-dasharray="9.6 4.8"/>
<path d="M93.40,231.40 L94.50,231.39 L96.00,231.36 L97.50,231.32 L99.00,231.27 L100.50,231.21 L102.00,231.14 L103.50,231.07 L105.00,231.00 L106.50,230.91 L108.00,230.79 L109.50,230.65 L111.00,230.49 L112.50,230.31 L114.00,230.13 L115.50,229.93 L117.00,229.71 L118.50,229.46 L120.00,229.19 L121.50,228.91 L123.00,228.61 L124.50,228.30 L126.00,227.99 L127.50,227.67 L129.00,227.34 L130.50,226.99 L132.00,226.63 L133.50,226.26 L135.00,225.89 L136.50,225.51 L138.00,225.12 L139.50,224.73 L141.00,224.33 L142.50,223.92 L144.00,223.49 L145.50,223.05 L147.00,222.61 L148.50,222.17 L150.00,221.72 L151.50,221.29 L153.00,220.86 L154.50,220.43 L156.00,220.01 L157.50,219.58 L159.00,219.16 L160.50,218.74 L162.00,218.32 L163.50,217.91 L165.00,217.50 L166.50,217.10 L168.00,216.71 L169.50,216.33 L171.00,215.95 L172.50,215.56 L174.00,215.17 L175.50,214.76 L177.00,214.32 L178.50,213.87 L180.00,213.39 L181.50,212.89 L183.00,212.37 L184.50,211.84 L186.00,211.31 L187.50,210.78 L189.00,210.25 L190.50,209.73 L192.00,209.20 L193.50,208.67 L195.00,208.14 L196.50,207.61 L198.00,207.08 L199.50,206.55 L201.00,206.02 L202.50,205.50 L204.00,204.97 L205.50,204.45 L207.00,203.93 L208.50,203.40 L210.00,202.88 L211.50,202.36 L213.00,201.83 L214.50,201.31 L216.00,200.79 L217.50,200.27 L219.00,199.75 L220.50,199.23 L222.00,198.71 L223.50,198.18 L225.00,197.66 L226.50,197.14 L228.00,196.62 L229.50,196.10 L231.00,195.57 L232.50,195.05 L234.00,194.53 L235.50,194.00 L237.00,193.48 L238.50,192.95 L240.00,192.42 L241.50,191.90 L243.00,191.37 L244.50,190.84 L246.00,190.32 L247.50,189.79 L249.00,189.27 L250.50,188.74 L252.00,188.22 L253.50,187.70 L255.00,187.18 L256.50,186.66 L258.00,186.14 L259.50,185.62 L261.00,185.11 L262.50,184.60 L264.00,184.09 L265.50,183.58 L267.00,183.07 L268.50,182.56 L270.00,182.05 L271.50,181.55 L273.00,181.04 L274.50,180.53 L276.00,180.03 L277.50,179.53 L279.00,179.02 L280.50,178.52 L282.00,178.03 L283.50,177.53 L285.00,177.04 L286.50,176.54 L288.00,176.06 L289.50,175.57 L291.00,175.09 L292.50,174.61 L294.00,174.13 L295.50,173.66 L297.00,173.19 L298.50,172.72 L300.00,172.26 L301.50,171.80 L303.00,171.34 L304.50,170.89 L306.00,170.44 L307.50,169.99 L309.00,169.54 L310.50,169.10 L312.00,168.65 L313.50,168.21 L315.00,167.77 L316.50,167.33 L318.00,166.89 L319.50,166.46 L321.00,166.02 L322.50,165.58 L324.00,165.15 L325.50,164.71 L327.00,164.27 L328.50,163.84 L330.00,163.41 L331.50,162.98 L333.00,162.54 L334.50,162.12 L336.00,161.69 L337.50,161.26 L339.00,160.83 L340.50,160.41 L342.00,159.98 L343.50,159.56 L345.00,159.14 L346.50,158.71 L348.00,158.29 L349.50,157.87 L351.00,157.45 L352.50,157.03 L354.00,156.62 L355.50,156.20 L357.00,155.78 L358.50,155.36 L360.00,154.94 L361.50,154.52 L363.00,154.10 L364.50,153.68 L366.00,153.26 L367.50,152.85 L369.00,152.44 L370.50,152.04 L372.00,151.64 L373.50,151.25 L375.00,150.87 L376.50,150.50 L378.00,150.15 L379.50,149.79 L381.00,149.45 L382.50,149.11 L384.00,148.77 L385.50,148.43 L387.00,148.09 L388.50,147.74 L390.00,147.40 L391.50,147.06 L393.00,146.72 L394.50,146.38 L396.00,146.04 L397.50,145.70 L399.00,145.37 L400.50,145.03 L402.00,144.70" stroke="#087d38" stroke-width="2.6" stroke-dasharray="9.6 4.8"/>
<path d="M93.40,231.40 L94.50,231.40 L96.00,231.40 L97.50,231.39 L99.00,231.39 L100.50,231.38 L102.00,231.37 L103.50,231.36 L105.00,231.35 L106.50,231.34 L108.00,231.33 L109.50,231.32 L111.00,231.30 L112.50,231.29 L114.00,231.27 L115.50,231.26 L117.00,231.24 L118.50,231.22 L120.00,231.20 L121.50,231.18 L123.00,231.14 L124.50,231.10 L126.00,231.05 L127.50,231.00 L129.00,230.93 L130.50,230.86 L132.00,230.79 L133.50,230.71 L135.00,230.62 L136.50,230.53 L138.00,230.43 L139.50,230.33 L141.00,230.23 L142.50,230.10 L144.00,229.94 L145.50,229.77 L147.00,229.58 L148.50,229.37 L150.00,229.15 L151.50,228.92 L153.00,228.68 L154.50,228.43 L156.00,228.18 L157.50,227.92 L159.00,227.67 L160.50,227.41 L162.00,227.14 L163.50,226.85 L165.00,226.55 L166.50,226.23 L168.00,225.90 L169.50,225.57 L171.00,225.23 L172.50,224.90 L174.00,224.57 L175.50,224.26 L177.00,223.95 L178.50,223.65 L180.00,223.37 L181.50,223.08 L183.00,222.80 L184.50,222.52 L186.00,222.24 L187.50,221.96 L189.00,221.68 L190.50,221.41 L192.00,221.14 L193.50,220.87 L195.00,220.60 L196.50,220.34 L198.00,220.07 L199.50,219.79 L201.00,219.50 L202.50,219.22 L204.00,218.93 L205.50,218.63 L207.00,218.34 L208.50,218.04 L210.00,217.75 L211.50,217.45 L213.00,217.14 L214.50,216.84 L216.00,216.53 L217.50,216.22 L219.00,215.91 L220.50,215.59 L222.00,215.27 L223.50,214.95 L225.00,214.63 L226.50,214.31 L228.00,213.98 L229.50,213.65 L231.00,213.31 L232.50,212.97 L234.00,212.63 L235.50,212.29 L237.00,211.93 L238.50,211.58 L240.00,211.22 L241.50,210.86 L243.00,210.49 L244.50,210.12 L246.00,209.75 L247.50,209.38 L249.00,209.00 L250.50,208.63 L252.00,208.25 L253.50,207.87 L255.00,207.49 L256.50,207.11 L258.00,206.73 L259.50,206.35 L261.00,205.98 L262.50,205.60 L264.00,205.22 L265.50,204.85 L267.00,204.47 L268.50,204.09 L270.00,203.71 L271.50,203.34 L273.00,202.96 L274.50,202.58 L276.00,202.20 L277.50,201.81 L279.00,201.43 L280.50,201.05 L282.00,200.66 L283.50,200.28 L285.00,199.89 L286.50,199.50 L288.00,199.11 L289.50,198.72 L291.00,198.32 L292.50,197.93 L294.00,197.53 L295.50,197.13 L297.00,196.73 L298.50,196.33 L300.00,195.92 L301.50,195.50 L303.00,195.09 L304.50,194.67 L306.00,194.25 L307.50,193.83 L309.00,193.40 L310.50,192.98 L312.00,192.56 L313.50,192.14 L315.00,191.71 L316.50,191.29 L318.00,190.88 L319.50,190.46 L321.00,190.05 L322.50,189.64 L324.00,189.23 L325.50,188.83 L327.00,188.43 L328.50,188.03 L330.00,187.63 L331.50,187.24 L333.00,186.84 L334.50,186.45 L336.00,186.05 L337.50,185.66 L339.00,185.27 L340.50,184.88 L342.00,184.49 L343.50,184.11 L345.00,183.73 L346.50,183.34 L348.00,182.96 L349.50,182.59 L351.00,182.21 L352.50,181.84 L354.00,181.47 L355.50,181.10 L357.00,180.73 L358.50,180.37 L360.00,180.01 L361.50,179.65 L363.00,179.29 L364.50,178.93 L366.00,178.58 L367.50,178.23 L369.00,177.87 L370.50,177.53 L372.00,177.18 L373.50,176.83 L375.00,176.49 L376.50,176.14 L378.00,175.80 L379.50,175.46 L381.00,175.13 L382.50,174.79 L384.00,174.45 L385.50,174.12 L387.00,173.79 L388.50,173.46 L390.00,173.13 L391.50,172.81 L393.00,172.49 L394.50,172.17 L396.00,171.85 L397.50,171.54 L399.00,171.22 L400.50,170.91 L402.00,170.60" stroke="#ff9232" stroke-width="2.6" stroke-dasharray="14.4 4.8 2.4 4.8"/>
<path d="M93.40,231.40 L94.50,231.40 L96.00,231.40 L97.50,231.40 L99.00,231.40 L100.50,231.39 L102.00,231.39 L103.50,231.39 L105.00,231.39 L106.50,231.38 L108.00,231.38 L109.50,231.38 L111.00,231.37 L112.50,231.37 L114.00,231.36 L115.50,231.35 L117.00,231.35 L118.50,231.34 L120.00,231.33 L121.50,231.33 L123.00,231.32 L124.50,231.31 L126.00,231.30 L127.50,231.29 L129.00,231.28 L130.50,231.27 L132.00,231.26 L133.50,231.25 L135.00,231.24 L136.50,231.23 L138.00,231.22 L139.50,231.20 L141.00,231.19 L142.50,231.16 L144.00,231.12 L145.50,231.07 L147.00,231.02 L148.50,230.95 L150.00,230.88 L151.50,230.80 L153.00,230.72 L154.50,230.63 L156.00,230.54 L157.50,230.45 L159.00,230.36 L160.50,230.27 L162.00,230.17 L163.50,230.06 L165.00,229.94 L166.50,229.81 L168.00,229.68 L169.50,229.54 L171.00,229.40 L172.50,229.25 L174.00,229.11 L175.50,228.96 L177.00,228.82 L178.50,228.68 L180.00,228.54 L181.50,228.40 L183.00,228.26 L184.50,228.12 L186.00,227.98 L187.50,227.83 L189.00,227.68 L190.50,227.53 L192.00,227.38 L193.50,227.23 L195.00,227.08 L196.50,226.92 L198.00,226.77 L199.50,226.61 L201.00,226.45 L202.50,226.28 L204.00,226.12 L205.50,225.95 L207.00,225.79 L208.50,225.62 L210.00,225.45 L211.50,225.28 L213.00,225.10 L214.50,224.93 L216.00,224.75 L217.50,224.57 L219.00,224.39 L220.50,224.21 L222.00,224.02 L223.50,223.84 L225.00,223.65 L226.50,223.45 L228.00,223.26 L229.50,223.06 L231.00,222.87 L232.50,222.67 L234.00,222.46 L235.50,222.25 L237.00,222.04 L238.50,221.82 L240.00,221.60 L241.50,221.38 L243.00,221.15 L244.50,220.93 L246.00,220.70 L247.50,220.47 L249.00,220.23 L250.50,220.00 L252.00,219.76 L253.50,219.52 L255.00,219.29 L256.50,219.05 L258.00,218.81 L259.50,218.57 L261.00,218.34 L262.50,218.10 L264.00,217.86 L265.50,217.63 L267.00,217.39 L268.50,217.15 L270.00,216.91 L271.50,216.68 L273.00,216.44 L274.50,216.20 L276.00,215.95 L277.50,215.71 L279.00,215.47 L280.50,215.22 L282.00,214.98 L283.50,214.73 L285.00,214.48 L286.50,214.23 L288.00,213.98 L289.50,213.72 L291.00,213.47 L292.50,213.21 L294.00,212.95 L295.50,212.69 L297.00,212.42 L298.50,212.15 L300.00,211.88 L301.50,211.60 L303.00,211.31 L304.50,211.01 L306.00,210.70 L307.50,210.39 L309.00,210.07 L310.50,209.74 L312.00,209.42 L313.50,209.09 L315.00,208.76 L316.50,208.42 L318.00,208.09 L319.50,207.76 L321.00,207.44 L322.50,207.11 L324.00,206.79 L325.50,206.48 L327.00,206.16 L328.50,205.84 L330.00,205.51 L331.50,205.19 L333.00,204.86 L334.50,204.54 L336.00,204.21 L337.50,203.88 L339.00,203.56 L340.50,203.23 L342.00,202.91 L343.50,202.58 L345.00,202.26 L346.50,201.94 L348.00,201.62 L349.50,201.31 L351.00,201.00 L352.50,200.69 L354.00,200.39 L355.50,200.08 L357.00,199.79 L358.50,199.49 L360.00,199.20 L361.50,198.91 L363.00,198.63 L364.50,198.34 L366.00,198.06 L367.50,197.78 L369.00,197.50 L370.50,197.23 L372.00,196.95 L373.50,196.67 L375.00,196.40 L376.50,196.12 L378.00,195.85 L379.50,195.57 L381.00,195.29 L382.50,195.01 L384.00,194.74 L385.50,194.46 L387.00,194.18 L388.50,193.91 L390.00,193.63 L391.50,193.36 L393.00,193.09 L394.50,192.82 L396.00,192.55 L397.50,192.29 L399.00,192.02 L400.50,191.76 L402.00,191.50" stroke="#0030d8" stroke-width="1" stroke-dasharray="4.8 7.2"/>
<path d="M93.40,231.40 L94.50,231.40 L96.00,231.40 L97.50,231.40 L99.00,231.40 L100.50,231.39 L102.00,231.39 L103.50,231.39 L105.00,231.39 L106.50,231.38 L108.00,231.38 L109.50,231.38 L111.00,231.37 L112.50,231.37 L114.00,231.36 L115.50,231.35 L117.00,231.35 L118.50,231.34 L120.00,231.33 L121.50,231.33 L123.00,231.32 L124.50,231.31 L126.00,231.30 L127.50,231.29 L129.00,231.28 L130.50,231.27 L132.00,231.26 L133.50,231.25 L135.00,231.24 L136.50,231.23 L138.00,231.22 L139.50,231.20 L141.00,231.19 L142.50,231.16 L144.00,231.12 L145.50,231.07 L147.00,231.02 L148.50,230.95 L150.00,230.88 L151.50,230.80 L153.00,230.72 L154.50,230.63 L156.00,230.54 L157.50,230.45 L159.00,230.36 L160.50,230.27 L162.00,230.17 L163.50,230.06 L165.00,229.94 L166.50,229.81 L168.00,229.68 L169.50,229.54 L171.00,229.40 L172.50,229.25 L174.00,229.11 L175.50,228.96 L177.00,228.82 L178.50,228.68 L180.00,228.54 L181.50,228.40 L183.00,228.26 L184.50,228.12 L186.00,227.98 L187.50,227.83 L189.00,227.68 L190.50,227.53 L192.00,227.38 L193.50,227.23 L195.00,227.08 L196.50,226.92 L198.00,226.77 L199.50,226.61 L201.00,226.45 L202.50,226.28 L204.00,226.12 L205.50,225.95 L207.00,225.79 L208.50,225.62 L210.00,225.45 L211.50,225.28 L213.00,225.10 L214.50,224.93 L216.00,224.75 L217.50,224.57 L219.00,224.39 L220.50,224.21 L222.00,224.02 L223.50,223.84 L225.00,223.65 L226.50,223.45 L228.00,223.26 L229.50,223.06 L231.00,222.87 L232.50,222.67 L234.00,222.46 L235.50,222.25 L237.00,222.04 L238.50,221.82 L240.00,221.60 L241.50,221.38 L243.00,221.15 L244.50,220.93 L246.00,220.70 L247.50,220.47 L249.00,220.23 L250.50,220.00 L252.00,219.76 L253.50,219.52 L255.00,219.29 L256.50,219.05 L258.00,218.81 L259.50,218.57 L261.00,218.34 L262.50,218.10 L264.00,217.86 L265.50,217.63 L267.00,217.39 L268.50,217.15 L270.00,216.91 L271.50,216.68 L273.00,216.44 L274.50,216.20 L276.00,215.95 L277.50,215.71 L279.00,215.47 L280.50,215.22 L282.00,214.98 L283.50,214.73 L285.00,214.48 L286.50,214.23 L288.00,213.98 L289.50,213.72 L291.00,213.47 L292.50,213.21 L294.00,212.95 L295.50,212.69 L297.00,212.42 L298.50,212.15 L300.00,211.88 L301.50,211.60 L303.00,211.32 L304.50,211.04 L306.00,210.75 L307.50,210.46 L309.00,210.17 L310.50,209.88 L312.00,209.59 L313.50,209.30 L315.00,209.01 L316.50,208.72 L318.00,208.43 L319.50,208.14 L321.00,207.86 L322.50,207.57 L324.00,207.29 L325.50,207.01 L327.00,206.74 L328.50,206.46 L330.00,206.18 L331.50,205.90 L333.00,205.62 L334.50,205.35 L336.00,205.07 L337.50,204.79 L339.00,204.52 L340.50,204.24 L342.00,203.97 L343.50,203.70 L345.00,203.43 L346.50,203.16 L348.00,202.89 L349.50,202.63 L351.00,202.37 L352.50,202.11 L354.00,201.85 L355.50,201.60 L357.00,201.35 L358.50,201.10 L360.00,200.86 L361.50,200.62 L363.00,200.38 L364.50,200.14 L366.00,199.91 L367.50,199.67 L369.00,199.44 L370.50,199.21 L372.00,198.98 L373.50,198.75 L375.00,198.51 L376.50,198.28 L378.00,198.05 L379.50,197.81 L381.00,197.58 L382.50,197.34 L384.00,197.10 L385.50,196.86 L387.00,196.63 L388.50,196.39 L390.00,196.15 L391.50,195.91 L393.00,195.68 L394.50,195.44 L396.00,195.21 L397.50,194.98 L399.00,194.75 L400.50,194.53 L402.00,194.30" stroke="#0030d8" stroke-width="2.6" stroke-dasharray="4.8 7.2"/>
</g>
<g fill="#000">
<circle cx="177.35" cy="166.0" r="2.8"/>
<circle cx="200.5" cy="149.2" r="2.8"/>
<circle cx="231.5" cy="127.8" r="2.8"/>
<circle cx="262.5" cy="108.5" r="2.8"/>
<circle cx="293.5" cy="91.8" r="2.8"/>
<circle cx="324.4" cy="76.7" r="2.8"/>
<circle cx="355.4" cy="63.2" r="2.8"/>
<circle cx="386.4" cy="51.2" r="2.8"/>
<path d="M173.75,214.85 L180.95,214.85 L177.35,208.45Z"/>
<path d="M196.9,207.1 L204.1,207.1 L200.5,200.7Z"/>
<path d="M227.9,196.1 L235.1,196.1 L231.5,189.7Z"/>
<path d="M258.9,186.1 L266.1,186.1 L262.5,179.7Z"/>
<path d="M289.9,176.1 L297.1,176.1 L293.5,169.7Z"/>
<path d="M320.79999999999995,166.6 L328.0,166.6 L324.4,160.2Z"/>
<path d="M351.79999999999995,158.4 L359.0,158.4 L355.4,152.0Z"/>
<path d="M382.79999999999995,150.5 L390.0,150.5 L386.4,144.1Z"/>
<rect x="174.54999999999998" y="221.2" width="5.6" height="5.6"/>
<rect x="197.7" y="217.2" width="5.6" height="5.6"/>
<rect x="228.7" y="210.45" width="5.6" height="5.6"/>
<rect x="259.7" y="203.45" width="5.6" height="5.6"/>
<rect x="290.7" y="196.45" width="5.6" height="5.6"/>
<rect x="321.59999999999997" y="189.2" width="5.6" height="5.6"/>
<rect x="352.59999999999997" y="182.39999999999998" width="5.6" height="5.6"/>
<rect x="383.59999999999997" y="175.39999999999998" width="5.6" height="5.6"/>
<path d="M173.75,229 L177.35,225.3 L180.95,229 L177.35,232.7Z"/>
<path d="M196.9,227.5 L200.5,223.8 L204.1,227.5 L200.5,231.2Z"/>
<path d="M227.9,224.25 L231.5,220.55 L235.1,224.25 L231.5,227.95Z"/>
<path d="M258.9,220.75 L262.5,217.05 L266.1,220.75 L262.5,224.45Z"/>
<path d="M289.9,216.75 L293.5,213.05 L297.1,216.75 L293.5,220.45Z"/>
<path d="M320.79999999999995,213 L324.4,209.3 L328.0,213 L324.4,216.7Z"/>
<path d="M351.79999999999995,208.5 L355.4,204.8 L359.0,208.5 L355.4,212.2Z"/>
<path d="M382.79999999999995,204.4 L386.4,200.70000000000002 L390.0,204.4 L386.4,208.1Z"/>
</g>
<g stroke="#111" stroke-width="0.8" fill="none">
<path d="M169.55,231.5 V227.8 M169.55,20.0 V23.7"/>
<path d="M247.25,231.5 V227.8 M247.25,20.0 V23.7"/>
<path d="M324.50,231.5 V227.8 M324.50,20.0 V23.7"/>
<path d="M92.5,72.50 H96.2 M402.0,72.50 H398.3"/>
<path d="M92.5,125.50 H96.2 M402.0,125.50 H398.3"/>
<path d="M92.5,178.50 H96.2 M402.0,178.50 H398.3"/>
</g>
<rect x="92.5" y="20.0" width="309.5" height="211.5" fill="none" stroke="#000" stroke-width="1"/>
<rect x="102.5" y="23.5" width="69.25" height="85.8" fill="#fff" stroke="#262626" stroke-width="1"/>
<text x="107.4" y="44.10" font-family="Liberation Sans, sans-serif" font-size="16.67">v</text>
<text transform="translate(115.74,48.70) scale(1,1.05)" font-family="Liberation Sans, sans-serif" font-size="13.34">2</text>
<path d="M142.9,40.15 H161.9" stroke="#9e0b00" stroke-width="2.6" fill="none"/>
<text x="107.4" y="61.80" font-family="Liberation Sans, sans-serif" font-size="16.67">v</text>
<text transform="translate(115.74,66.40) scale(1,1.05)" font-family="Liberation Sans, sans-serif" font-size="13.34">3</text>
<path d="M142.9,57.85 H161.9" stroke="#087d38" stroke-width="2.6" stroke-dasharray="9.6 4.8" fill="none"/>
<text x="107.4" y="79.50" font-family="Liberation Sans, sans-serif" font-size="16.67">v</text>
<text transform="translate(115.74,84.10) scale(1,1.05)" font-family="Liberation Sans, sans-serif" font-size="13.34">4</text>
<path d="M142.9,75.55 H161.9" stroke="#ff9232" stroke-width="2.6" stroke-dasharray="14.4 4.8 2.4 4.8" fill="none"/>
<text x="107.4" y="97.20" font-family="Liberation Sans, sans-serif" font-size="16.67">v</text>
<text transform="translate(115.74,101.80) scale(1,1.05)" font-family="Liberation Sans, sans-serif" font-size="13.34">5</text>
<path d="M142.9,93.25 H161.9" stroke="#0030d8" stroke-width="2.6" stroke-dasharray="4.8 7.0" fill="none"/>
<text transform="translate(185.8,46.7) scale(1,1.05)" font-family="Liberation Sans, sans-serif" font-size="16.67" letter-spacing="0.1">ATLAS 20-30%, EP</text>
<text x="185.2" y="68.3" font-family="Liberation Sans, sans-serif" font-size="12">narrow: η<tspan dx="0.9">/s(T)</tspan></text>
<text x="185.3" y="83.2" font-family="Liberation Sans, sans-serif" font-size="12">wide: η<tspan dx="0.6">/s=0.2</tspan></text>
<text transform="translate(73.23,237.70) scale(1,1.05)" font-family="Liberation Sans, sans-serif" font-size="16.67">0</text>
<text transform="translate(50.06,184.82) scale(1,1.05)" font-family="Liberation Sans, sans-serif" font-size="16.67">0.05</text>
<text transform="translate(59.33,131.95) scale(1,1.05)" font-family="Liberation Sans, sans-serif" font-size="16.67">0.</text><use href="#one" transform="translate(73.23,131.95) scale(0.00814,-0.00855)"/>
<text transform="translate(50.06,79.08) scale(1,1.05)" font-family="Liberation Sans, sans-serif" font-size="16.67">0.</text><use href="#one" transform="translate(63.96,79.08) scale(0.00814,-0.00855)"/><text transform="translate(73.23,79.08) scale(1,1.05)" font-family="Liberation Sans, sans-serif" font-size="16.67">5</text>
<text transform="translate(59.33,26.20) scale(1,1.05)" font-family="Liberation Sans, sans-serif" font-size="16.67">0.2</text>
<text transform="translate(90.26,254.20) scale(1,1.05)" font-family="Liberation Sans, sans-serif" font-size="16.67">0</text>
<text transform="translate(160.69,254.20) scale(1,1.05)" font-family="Liberation Sans, sans-serif" font-size="16.67">0.5</text>
<use href="#one" transform="translate(245.01,254.20) scale(0.00814,-0.00855)"/>
<use href="#one" transform="translate(315.44,254.20) scale(0.00814,-0.00855)"/><text transform="translate(324.71,254.20) scale(1,1.05)" font-family="Liberation Sans, sans-serif" font-size="16.67">.5</text>
<text transform="translate(399.76,254.20) scale(1,1.05)" font-family="Liberation Sans, sans-serif" font-size="16.67">2</text>
<text x="215.3" y="277.6" font-family="Liberation Sans, sans-serif" font-size="16.67">p</text>
<text transform="translate(224.17,282.9) scale(1,1.05)" font-family="Liberation Sans, sans-serif" font-size="13.34">T</text>
<text transform="translate(237.35,277.6) scale(1,1.05)" font-family="Liberation Sans, sans-serif" font-size="16.67">[GeV]</text>
<g transform="translate(18.6,149) rotate(-90)">
<path d="M4.6,-12.3 L1.0,-4.9 L4.6,3.0" fill="none" stroke="#000" stroke-width="1.0"/>
<text x="5.5" y="0.2" font-family="Liberation Sans, sans-serif" font-size="17.6">v</text>
<text x="14.3" y="5.1" font-family="Liberation Sans, sans-serif" font-size="11.2">n</text>
<text x="19.1" y="-7.1" font-family="Liberation Sans, sans-serif" font-size="13.34">2</text>
<path d="M27.2,-12.3 L31.0,-4.9 L27.2,2.6" fill="none" stroke="#000" stroke-width="1.0"/>
<use href="#one" transform="translate(32.20,-8.75) scale(0.00498,-0.00518)"/><text transform="translate(37.87,-8.75) scale(1,1.04)" font-family="Liberation Sans, sans-serif" font-size="10.2">/2</text>
</g>
</svg>
</body></html>
